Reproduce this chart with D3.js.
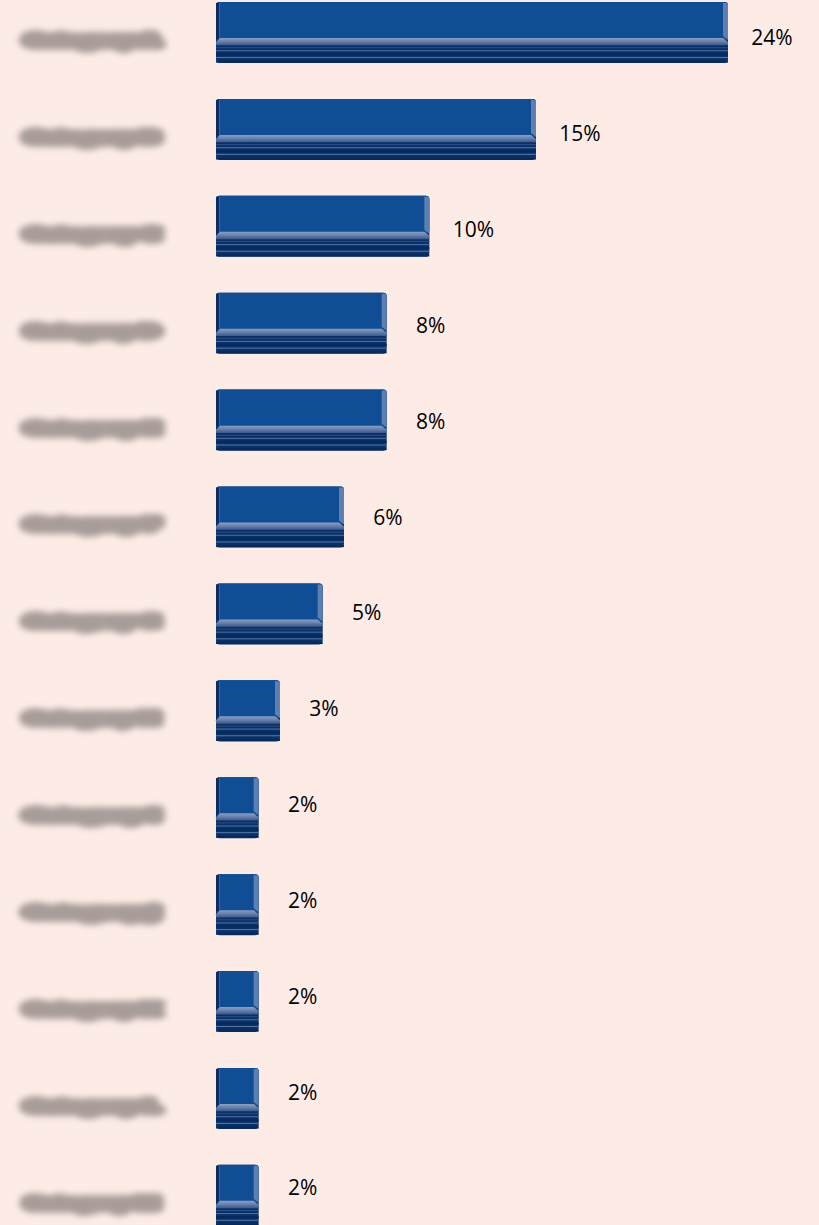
<!DOCTYPE html>
<html>
<head>
<meta charset="utf-8">
<script src="https://cdn.jsdelivr.net/npm/d3@7"></script>
<style>
  html, body { margin: 0; padding: 0; background: #fdece6; }
  svg { display: block; }
</style>
</head>
<body>
<div id="chart"></div>
<script>
// Category names (rendered redacted) and their shares in percent
const categories = [
  "Category A", "Category B", "Category C", "Category D", "Category E",
  "Category F", "Category G", "Category H", "Category I", "Category J",
  "Category K", "Category L", "Category M"
];
const values = [24, 15, 10, 8, 8, 6, 5, 3, 2, 2, 2, 2, 2];
const valueLabels = ["24%", "15%", "10%", "8%", "8%", "6%", "5%", "3%", "2%", "2%", "2%", "2%", "2%"];

const W = 819, H = 1225;
const svg = d3.select("#chart").append("svg")
  .attr("width", W).attr("height", H);

svg.append("rect").attr("width", W).attr("height", H).attr("fill", "#fdece6");

const defs = svg.append("defs");
defs.append("filter").attr("id", "redact")
  .attr("x", "-20%").attr("y", "-100%").attr("width", "140%").attr("height", "300%")
  .append("feGaussianBlur").attr("stdDeviation", 3.4);

const bevel = defs.append("linearGradient").attr("id", "bevel")
  .attr("x1", 0).attr("y1", 0).attr("x2", 0).attr("y2", 1);
bevel.append("stop").attr("offset", "0%").attr("stop-color", "#8c9fc2");
bevel.append("stop").attr("offset", "45%").attr("stop-color", "#6a82ad");
bevel.append("stop").attr("offset", "100%").attr("stop-color", "#3b5888");

const x = d3.scaleLinear().domain([0, 24]).range([216, 728]);
const y = d3.scaleBand().domain(categories).range([2, 1225.9]).paddingInner(0.37).paddingOuter(0);
const labelY = d3.scalePoint().domain(categories).range([38, 1188]);

const rows = categories.map((c, i) => ({ cat: c, v: values[i], label: valueLabels[i] }));

// Redacted category labels
svg.append("g").selectAll("text").data(rows).join("text")
  .attr("x", 26)
  .attr("y", d => y(d.cat) + 38)
  .attr("dy", "0.35em")
  .attr("textLength", 132)
  .attr("lengthAdjust", "spacingAndGlyphs")
  .attr("font-family", "Open Sans, sans-serif")
  .attr("font-size", 14)
  .attr("font-weight", "bold")
  .attr("fill", "#a89c99")
  .attr("stroke", "#a89c99")
  .attr("stroke-width", 10)
  .attr("stroke-linejoin", "round")
  .attr("filter", "url(#redact)")
  .text(d => d.cat);

// Bars with a bevelled front face and striped base
const bar = svg.append("g").selectAll("g").data(rows).join("g")
  .attr("transform", d => `translate(${x(0)},${y(d.cat)})`);

const bh = y.bandwidth();
const faceH = bh * 0.59;
const bevH = bh * 0.12;

// base block
bar.append("rect")
  .attr("x", 0).attr("y", 0)
  .attr("width", d => x(d.v) - x(0)).attr("height", bh)
  .attr("rx", 4)
  .attr("fill", "#093169");

// front face
bar.append("rect")
  .attr("x", 0).attr("y", 0)
  .attr("width", d => x(d.v) - x(0)).attr("height", faceH + 2)
  .attr("rx", 3)
  .attr("fill", "#0f4e95");
// dark left edge
bar.append("rect")
  .attr("x", 0).attr("y", 1)
  .attr("width", 3).attr("height", faceH)
  .attr("fill", "#0a2c60");
bar.append("rect")
  .attr("x", 3).attr("y", 1)
  .attr("width", 1).attr("height", faceH)
  .attr("fill", "#3a62a0");
// light right edge
bar.append("path")
  .attr("d", d => {
    const w = x(d.v) - x(0);
    return `M${w - 5},1 L${w - 1},1 Q${w},1 ${w},3 L${w},${faceH + 2} L${w - 5},${faceH - 2} Z`;
  })
  .attr("fill", "#5e7fb1");

// bevel band
bar.append("path")
  .attr("d", d => {
    const w = x(d.v) - x(0);
    return `M4,${faceH} L${w - 5},${faceH} L${w},${faceH + 4} L${w},${faceH + bevH} L0,${faceH + bevH} L0,${faceH + 4} Z`;
  })
  .attr("fill", "url(#bevel)");

// stripes on the base
const stripes = [
  { o: 0.74, h: 1, c: "#2a4d84" },
  { o: 0.79, h: 1, c: "#5470a0" },
  { o: 0.84, h: 2, c: "#062a5c" },
  { o: 0.90, h: 1, c: "#5a76a5" },
  { o: 0.96, h: 2, c: "#062a5c" }
];
stripes.forEach(s => {
  bar.append("rect")
    .attr("x", 0).attr("y", bh * s.o)
    .attr("width", d => x(d.v) - x(0)).attr("height", s.h)
    .attr("fill", s.c);
});

// value labels
svg.append("g").selectAll("text").data(rows).join("text")
  .attr("x", d => x(d.v) + 44)
  .attr("y", d => labelY(d.cat))
  .attr("dy", "0.35em")
  .attr("text-anchor", "middle")
  .attr("font-family", "Open Sans, sans-serif")
  .attr("font-size", 21)
  .attr("fill", "#000")
  .text(d => d.label);
</script>
</body>
</html>
